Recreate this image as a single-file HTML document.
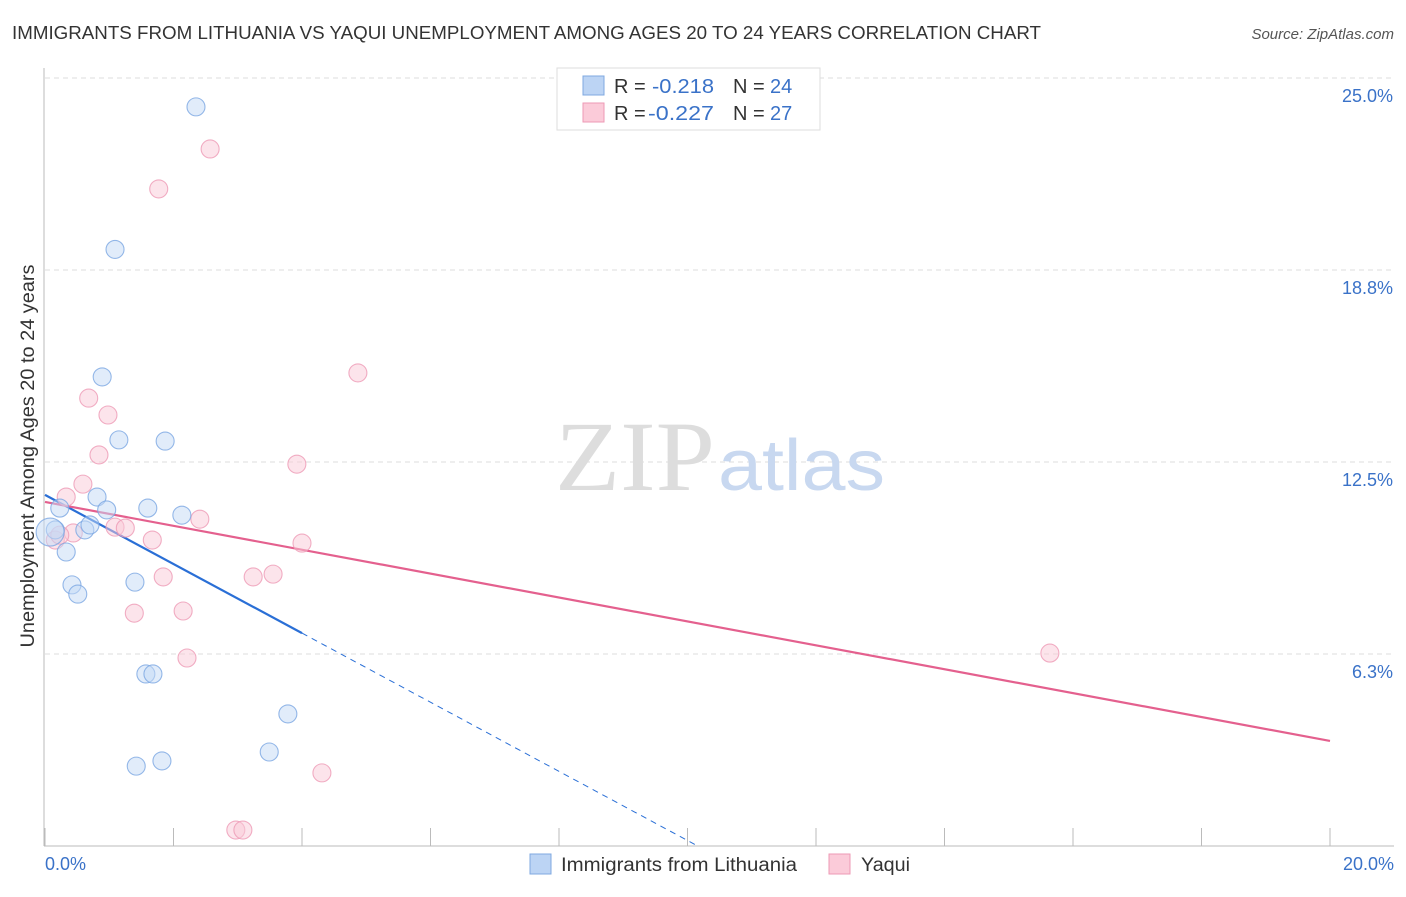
<!DOCTYPE html>
<html><head><meta charset="utf-8"><style>
body{margin:0;background:#fff;font-family:"Liberation Sans",sans-serif;}
</style></head><body>
<svg width="1406" height="892" xmlns="http://www.w3.org/2000/svg">
<text x="12" y="39" font-size="18" fill="#333" textLength="1029" lengthAdjust="spacingAndGlyphs">IMMIGRANTS FROM LITHUANIA VS YAQUI UNEMPLOYMENT AMONG AGES 20 TO 24 YEARS CORRELATION CHART</text>
<text x="1394" y="39" font-size="15" fill="#555" font-style="italic" text-anchor="end">Source: ZipAtlas.com</text>
<g id="grid"></g>
<text x="555" y="490" font-size="100" fill="#ddd" font-family="Liberation Serif" textLength="160" lengthAdjust="spacingAndGlyphs">ZIP</text>
<text x="718" y="490" font-size="72" fill="#c8d8f0" textLength="167" lengthAdjust="spacingAndGlyphs">atlas</text>
<line x1="44" y1="68" x2="44" y2="846" stroke="#bbb"/>
<line x1="44" y1="846" x2="1394" y2="846" stroke="#bbb"/>
<g id="ticks"></g>
<text transform="translate(34,456) rotate(-90)" font-size="19" fill="#333" text-anchor="middle" textLength="383" lengthAdjust="spacingAndGlyphs">Unemployment Among Ages 20 to 24 years</text>
<text x="45" y="870" font-size="18" fill="#3a72c8">0.0%</text>
<text x="1394" y="870" font-size="18" fill="#3a72c8" text-anchor="end">20.0%</text>
<g id="lines"></g>
<g id="points"></g>
<g>
<rect x="557" y="68" width="263" height="62" fill="#fff" stroke="#ddd"/>
<rect x="583" y="76" width="21" height="19" fill="#bcd4f4" stroke="#7fa8e0"/>
<rect x="583" y="103" width="21" height="19" fill="#fbcbd9" stroke="#ee9ab5"/>
<text x="614" y="93" font-size="20" fill="#333">R = </text>
<text x="652" y="93" font-size="20" fill="#3a72c8" textLength="62" lengthAdjust="spacingAndGlyphs">-0.218</text>
<text x="733" y="93" font-size="20" fill="#333">N = </text>
<text x="770" y="93" font-size="20" fill="#3a72c8">24</text>
<text x="614" y="120" font-size="20" fill="#333">R = </text>
<text x="648" y="120" font-size="20" fill="#3a72c8" textLength="66" lengthAdjust="spacingAndGlyphs">-0.227</text>
<text x="733" y="120" font-size="20" fill="#333">N = </text>
<text x="770" y="120" font-size="20" fill="#3a72c8">27</text>
</g>
<g>
<rect x="530" y="854" width="21" height="20" fill="#bcd4f4" stroke="#7fa8e0"/>
<text x="561" y="871" font-size="19" fill="#333" textLength="236" lengthAdjust="spacingAndGlyphs">Immigrants from Lithuania</text>
<rect x="829" y="854" width="21" height="20" fill="#fbcbd9" stroke="#ee9ab5"/>
<text x="861" y="871" font-size="19" fill="#333" textLength="49" lengthAdjust="spacingAndGlyphs">Yaqui</text>
</g>
</svg>
<script>
const yTicks=[6.25,12.5,18.75,25];
const yTickLabels=["6.3%","12.5%","18.8%","25.0%"];
const xTicks=[0,2,4,6,8,10,12,14,16,18,20];
const blueX=[2.35,1.09,0.89,1.15,1.87,0.81,0.23,0.96,1.60,2.13,0.16,0.62,0.70,0.33,0.42,0.51,1.40,1.57,1.68,3.78,3.49,1.42,1.82,0.08];
const blueY=[24.06,19.42,15.27,13.22,13.18,11.36,11.00,10.94,11.00,10.77,10.29,10.29,10.45,9.57,8.50,8.20,8.59,5.60,5.60,4.30,3.06,2.60,2.77,10.22];
const pinkX=[2.57,1.77,4.87,0.68,0.98,0.84,3.92,0.59,0.33,2.41,1.09,1.25,0.44,0.16,0.23,1.67,4.00,1.84,3.24,3.55,1.39,2.15,2.21,15.64,4.31,2.97,3.08];
const pinkY=[22.69,21.39,15.40,14.58,14.03,12.73,12.43,11.78,11.36,10.64,10.38,10.35,10.19,9.96,10.12,9.96,9.86,8.76,8.76,8.85,7.58,7.65,6.12,6.28,2.38,0.52,0.52];
const blueTrend=[11.43,-1.125];
const pinkTrend=[11.2,-0.389];
const NS="http://www.w3.org/2000/svg";
const sx=v=>45+v*64.25, sy=v=>846-v*30.72;
function mk(t,a,p){const e=document.createElementNS(NS,t);for(const k in a)e.setAttribute(k,a[k]);document.getElementById(p).appendChild(e);return e;}
yTicks.forEach((v,i)=>{
 const l=mk('line',{x1:45,x2:1394,y1:sy(v),y2:sy(v),stroke:'#ddd','stroke-dasharray':'5,4'},'grid');
 
 
 const t=mk('text',{x:1393,y:sy(v)+24,'font-size':18,fill:'#3a72c8','text-anchor':'end'},'grid');
 t.textContent=yTickLabels[i];
 
 
});
xTicks.forEach(v=>{
 const l=mk('line',{x1:sx(v),x2:sx(v),y1:828,y2:846,stroke:'#bbb'},'ticks');
 
 
});
function tl(tr,x0,x1,col,dash,name){
 const l=mk('line',{x1:sx(x0),y1:sy(tr[0]+tr[1]*x0),x2:sx(x1),y2:sy(tr[0]+tr[1]*x1),stroke:col,'stroke-width':dash?1:2.2},'lines');
 if(dash)l.setAttribute('stroke-dasharray','6,5');
 
 
}
tl(blueTrend,0,4,'#2a6fd6',false,'trend-lithuania');
tl(blueTrend,4,(0-blueTrend[0])/blueTrend[1],'#2a6fd6',true,'trend-lithuania-extension');
tl(pinkTrend,0,20,'#e4608e',false,'trend-yaqui');
function pts(X,Y,fill,stroke,name){
 X.forEach((x,i)=>{
  const c=mk('circle',{cx:sx(x),cy:sy(Y[i]),r:(i===X.length-1&&name==='point-lithuania')?14:9,fill:fill,'fill-opacity':0.5,stroke:stroke,'stroke-width':1.1,'stroke-opacity':0.8},'points');
  
  
 });
}
pts(pinkX,pinkY,'#f9c9d7','#ee9ab5','point-yaqui');
pts(blueX,blueY,'#c4daf6','#7aa6e2','point-lithuania');
</script>
</body></html>
